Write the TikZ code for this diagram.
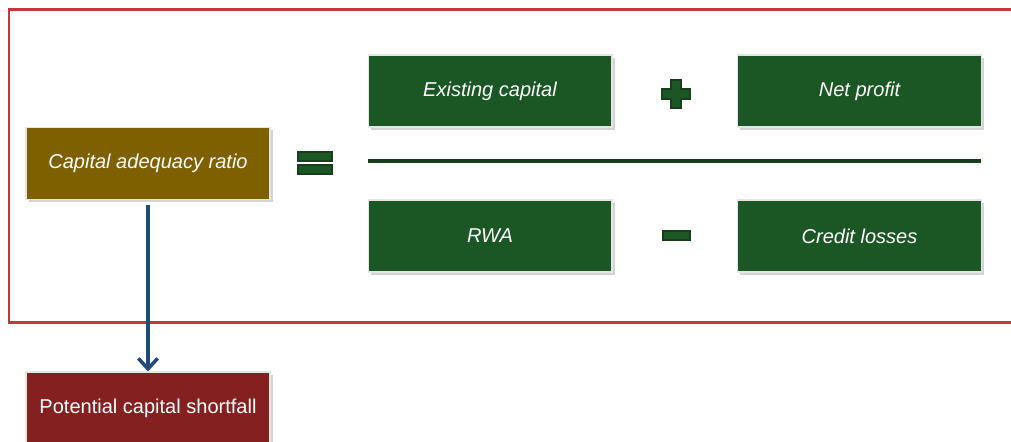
\documentclass[tikz,border=0pt]{standalone}
\usepackage{fontspec}
\setmainfont{Liberation Sans}
\usetikzlibrary{arrows.meta,shadows}
\definecolor{frame}{HTML}{C0393B}
\definecolor{olive}{HTML}{7F6000}
\definecolor{dgreen}{HTML}{1B5724}
\definecolor{lgreen}{HTML}{1A3D1E}
\definecolor{dred}{HTML}{842020}
\definecolor{arrowblue}{HTML}{1F4A7A}
\begin{document}
\begin{tikzpicture}[x=0.02cm,y=-0.02cm,
    box/.style={draw=gray!20,line width=0.6pt,text=white,minimum width=4.88cm,minimum height=1.44cm,
      font=\fontsize{11.4}{13}\selectfont\itshape,
      drop shadow={shadow xshift=1.5pt,shadow yshift=-1.5pt,opacity=0.35,fill=gray}},
    sign/.style={fill=dgreen,draw=lgreen,line width=0.8pt}]
\useasboundingbox (0,0) rectangle (1011,441);
\draw[frame,line width=1.7pt] (9,9) rectangle (1030,322);
\node[box,fill=olive] (car) at (148,163.5) {Capital adequacy ratio};
\node[box,fill=dgreen] (exist) at (490,91) {Existing capital};
\node[box,fill=dgreen] (net) at (859.5,91) {Net profit};
\node[box,fill=dgreen] (rwa) at (490,236) {RWA};
\node[box,fill=dgreen] (loss) at (859.5,236) {Credit losses};
\node[box,fill=dred,font=\fontsize{11.4}{13}\selectfont] (short) at (148,408) {Potential capital shortfall};
% signs
\draw[sign] (298,152) rectangle (332,161);
\draw[sign] (298,165) rectangle (332,174);
\draw[sign] (671,80) -- (681,80) -- (681,89) -- (690,89) -- (690,99) -- (681,99) -- (681,108)
  -- (671,108) -- (671,99) -- (662,99) -- (662,89) -- (671,89) -- cycle;
\draw[sign] (663,231) rectangle (690,240);
\draw[lgreen,line width=2.4pt] (368,161) -- (981,161);
\draw[-{Straight Barb[length=6pt,width=11pt]},arrowblue,line width=2pt,shorten <=3pt] (car) -- (short);
\end{tikzpicture}
\end{document}
